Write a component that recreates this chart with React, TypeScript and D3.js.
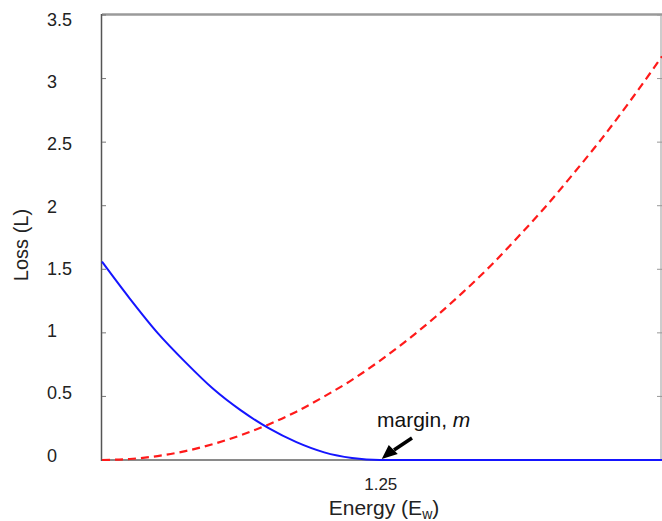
import React from "react";
import * as d3 from "d3";

const energy = [0, 0.125, 0.25, 0.375, 0.5, 0.625, 0.75, 0.875, 1.0, 1.125, 1.25, 1.375, 1.5, 1.625, 1.75, 1.875, 2.0, 2.125, 2.25, 2.375, 2.5, 2.52];
const lossBlue = [1.56, 1.27, 1.0, 0.77, 0.56, 0.39, 0.25, 0.14, 0.06, 0.016, 0, 0, 0, 0, 0, 0, 0, 0, 0, 0, 0, 0];
const lossRed = [0, 0.008, 0.031, 0.07, 0.125, 0.195, 0.28, 0.38, 0.5, 0.63, 0.78, 0.945, 1.125, 1.32, 1.53, 1.76, 2.0, 2.26, 2.53, 2.82, 3.125, 3.175];
const yTicks = [0, 0.5, 1, 1.5, 2, 2.5, 3, 3.5];
const yTickLabels = ["0", "0.5", "1", "1.5", "2", "2.5", "3", "3.5"];
const xTicks = [1.25];
const xTickLabels = ["1.25"];

const W = 662, H = 521;
const left = 102, right = 662, top = 15, bottom = 460;
const font = "'Liberation Sans', Arial, sans-serif";

export default function App() {
  const x = d3.scaleLinear().domain([0, 2.52]).range([left, right]);
  const y = d3.scaleLinear().domain([0, 3.5]).range([bottom, top]);
  const yLabel = d3.scaleLinear().domain([0, 3.5]).range([461.5, 26]);
  const line = (vals: number[]) =>
    d3.line<number>().x((_, i) => x(energy[i])).y((v) => y(v)).curve(d3.curveMonotoneX)(vals) || "";
  const tip = x(1.25) + 2;

  return (
    <svg width={W} height={H} style={{ position: "absolute", left: 0, top: 0, background: "#fff" }}>
      {/* frame */}
      <line x1={left} x2={right} y1={top - 0.5} y2={top - 0.5} stroke="#9a9a9a" strokeWidth={2.5} />
      <line x1={right - 1} x2={right - 1} y1={top} y2={bottom} stroke="#bbbbbb" strokeWidth={1.5} />
      <line x1={left} x2={right} y1={bottom} y2={bottom} stroke="#8a8a8a" strokeWidth={2} />
      <line x1={left - 0.5} x2={left - 0.5} y1={top - 1} y2={bottom + 1} stroke="#555" strokeWidth={1.5} />
      {yTicks.map((t, i) => (
        <g key={i}>
          <line x1={left} x2={left + 4} y1={y(t)} y2={y(t)} stroke="#777" strokeWidth={1} />
          <line x1={right - 5} x2={right} y1={y(t)} y2={y(t)} stroke="#999" strokeWidth={1} />
          <text x={47} y={yLabel(t)} fontFamily={font} fontSize={18} fill="#222">
            {yTickLabels[i]}
          </text>
        </g>
      ))}
      {xTicks.map((t, i) => (
        <text key={i} x={x(t) + 1} y={490} textAnchor="middle" fontFamily={font} fontSize={17} fill="#222">
          {xTickLabels[i]}
        </text>
      ))}
      <text x={384} y={515} textAnchor="middle" fontFamily={font} fontSize={21} fill="#222">
        Energy (E<tspan fontSize={14} dy={4}>w</tspan><tspan dy={-4}>)</tspan>
      </text>
      <text transform={`translate(28,245) rotate(-90)`} textAnchor="middle" fontFamily={font} fontSize={20} fill="#222">
        Loss (L)
      </text>
      {/* curves */}
      <path d={line(lossRed)} fill="none" stroke="#ff1a1a" strokeWidth={2.2} strokeDasharray="8,5" />
      <path d={line(lossBlue)} fill="none" stroke="#1515ff" strokeWidth={2} />
      {/* annotation */}
      <text x={377} y={427} fontFamily={font} fontSize={21} fill="#111">
        margin, <tspan fontStyle="italic">m</tspan>
      </text>
      <line x1={412} x2={394} y1={438} y2={450} stroke="#000" strokeWidth={3.5} />
      <polygon points={`${tip},${bottom - 1} ${tip + 7},${bottom - 15} ${tip + 16},${bottom - 6}`} fill="#000" />
    </svg>
  );
}
